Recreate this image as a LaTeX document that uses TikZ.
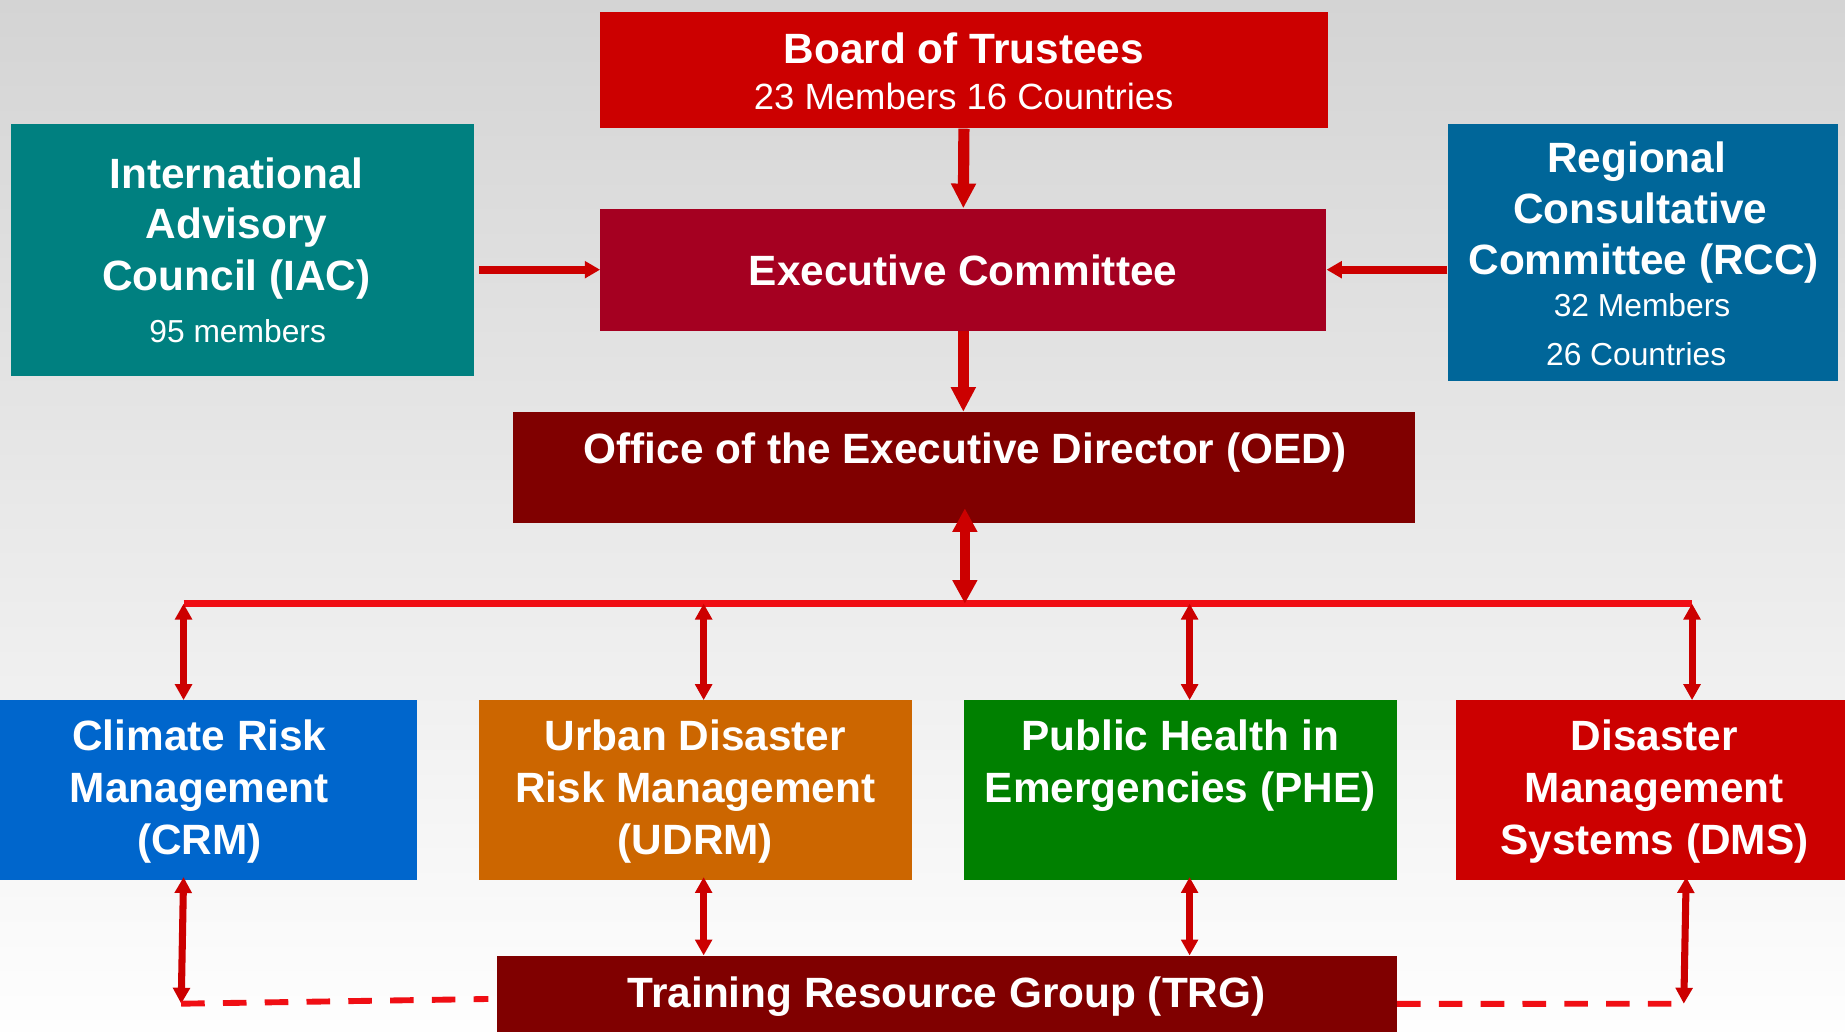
\documentclass[tikz,border=0pt]{standalone}
\usepackage{fontspec}
\setmainfont{Liberation Sans}
\usetikzlibrary{arrows.meta}
\definecolor{bgtop}{RGB}{212,212,212}
\definecolor{bgmid}{RGB}{235,235,235}
\definecolor{bgbot}{RGB}{254,254,254}
\definecolor{cBoard}{RGB}{204,0,0}
\definecolor{cExec}{RGB}{165,0,33}
\definecolor{cOED}{RGB}{128,0,0}
\definecolor{cIAC}{RGB}{0,128,128}
\definecolor{cRCC}{RGB}{0,102,153}
\definecolor{cCRM}{RGB}{0,102,204}
\definecolor{cUDRM}{RGB}{204,102,0}
\definecolor{cPHE}{RGB}{0,128,0}
\definecolor{cDMS}{RGB}{204,0,0}
\definecolor{arrc}{RGB}{204,0,0}
\definecolor{busc}{RGB}{240,14,20}
\newcommand\fHd{\fontsize{36}{43}\selectfont\bfseries}
\newcommand\fSubA{\fontsize{31}{36}\selectfont}
\newcommand\fSubB{\fontsize{27}{32}\selectfont}
\tikzset{
  box/.style={draw=none, inner sep=0pt, anchor=north west},
  hd/.style={text=white, font=\fHd, anchor=base, inner sep=0pt},
  subA/.style={text=white, font=\fSubA, anchor=base, inner sep=0pt},
  subB/.style={text=white, font=\fSubB, anchor=base, inner sep=0pt},
  arrM/.style={draw=arrc, line width=9.5pt, -{Triangle[width=20pt,length=21pt]}},
  arrS/.style={draw=arrc, line width=7pt, -{Triangle[width=14pt,length=13pt]}},
  dblO/.style={draw=arrc, line width=9pt, {Triangle[width=20pt,length=20pt]}-{Triangle[width=20pt,length=20pt]}},
  dblS/.style={draw=arrc, line width=6pt, {Triangle[width=14pt,length=13.5pt]}-{Triangle[width=14pt,length=13.5pt]}},
  busline/.style={draw=busc, line width=6.5pt},
  dsh/.style={draw=busc, line width=5pt, dash pattern=on 20pt off 15.5pt}
}
\begin{document}
\begin{tikzpicture}[x=1pt,y=-1pt]
\useasboundingbox (0,0) rectangle (1568,877);
\shade[top color=bgtop, middle color=bgmid, bottom color=bgbot] (0,0) rectangle (1568,877);

% boxes
\node[box, fill=cBoard, minimum width=618pt, minimum height=99pt] (board) at (510,10) {};
\node[box, fill=cExec, minimum width=617pt, minimum height=104pt] (exec) at (510,177) {};
\node[box, fill=cIAC, minimum width=394pt, minimum height=214pt] (iac) at (9,105) {};
\node[box, fill=cRCC, minimum width=332pt, minimum height=219pt] (rcc) at (1230,105) {};
\node[box, fill=cOED, minimum width=766pt, minimum height=94pt] (oed) at (436,350) {};
\node[box, fill=cCRM, minimum width=354pt, minimum height=153pt] (crm) at (0,595) {};
\node[box, fill=cUDRM, minimum width=368pt, minimum height=153pt] (udrm) at (407,595) {};
\node[box, fill=cPHE, minimum width=368pt, minimum height=153pt] (phe) at (819,595) {};
\node[box, fill=cDMS, minimum width=331pt, minimum height=153pt] (dms) at (1237,595) {};
\node[box, fill=cOED, minimum width=765pt, minimum height=82pt] (trg) at (422,812) {};

% texts
\node[hd] (boardT) at (819,54) {Board of Trustees};
\node[subA] (boardS) at (819,93) {23 Members 16 Countries};
\node[hd] (execT) at (818.5,243) {Executive Committee};
\node[hd] (iac1) at (201,160) {International};
\node[hd] (iac2) at (201,203) {Advisory};
\node[hd] (iac3) at (201,247) {Council (IAC)};
\node[subB] (iac4) at (202,291) {95 members};
\node[hd] (rcc1) at (1391,147) {Regional};
\node[hd] (rcc2) at (1394,190) {Consultative};
\node[hd] (rcc3) at (1397,233) {Committee (RCC)};
\node[subB] (rcc4) at (1395.5,269) {32 Members};
\node[subB] (rcc5) at (1390.5,311) {26 Countries};
\node[hd] (oedT) at (820,394) {Office of the Executive Director (OED)};
\node[hd] (crm1) at (169.5,638) {Climate Risk};
\node[hd] (crm2) at (169.5,682) {Management};
\node[hd] (crm3) at (169.5,726) {(CRM)};
\node[hd] (udrm1) at (591,638) {Urban Disaster};
\node[hd] (udrm2) at (591,682) {Risk Management};
\node[hd] (udrm3) at (591,726) {(UDRM)};
\node[hd] (phe1) at (1003,638) {Public Health in};
\node[hd] (phe2) at (1003,682) {Emergencies (PHE)};
\node[hd] (dms1) at (1406,638) {Disaster};
\node[hd] (dms2) at (1406,682) {Management};
\node[hd] (dms3) at (1406,726) {Systems (DMS)};
\node[hd] (trgT) at (804.5,856) {Training Resource Group (TRG)};

% helper coordinates
\coordinate (busL) at (156,513);
\coordinate (busR) at (1438,513);
\coordinate (tU) at (598,513);
\coordinate (tP) at (1011,513);
\coordinate (oedA) at (820,432);
\coordinate (crmC) at (154,853);
\coordinate (crmD) at (415,849);
\coordinate (dmsC) at (1431,853);

% top connectors
\draw[arrM] (board.south) -- (exec.north);
\draw[arrM] (exec.south) -- (exec.south |- oed.north);
\draw[arrS] ([xshift=4pt]iac.east |- exec.center) -- (exec.west);
\draw[arrS] (rcc.west |- exec.center) -- (exec.east);

% bus
\draw[busline] (busL) -- (busR);
\draw[dblO] (oedA) -- (oedA |- busL);
\draw[dblS] (busL) -- (busL |- crm.north);
\draw[dblS] (tU) -- (tU |- udrm.north);
\draw[dblS] (tP) -- (tP |- phe.north);
\draw[dblS] (busR) -- (busR |- dms.north);

% to TRG
\draw[dblS] ([yshift=3pt]tU |- udrm.south) -- (tU |- trg.north);
\draw[dblS] ([yshift=3pt]tP |- phe.south) -- (tP |- trg.north);
\draw[dblS] ([xshift=2pt,yshift=3pt]crmC |- crm.south) -- (crmC);
\draw[dblS] ([xshift=2pt,yshift=3pt]dmsC |- dms.south) -- (dmsC);
\draw[dsh] (crmC) -- (crmD);
\draw[dsh] (trg.east) -- (dmsC);
\end{tikzpicture}
\end{document}
